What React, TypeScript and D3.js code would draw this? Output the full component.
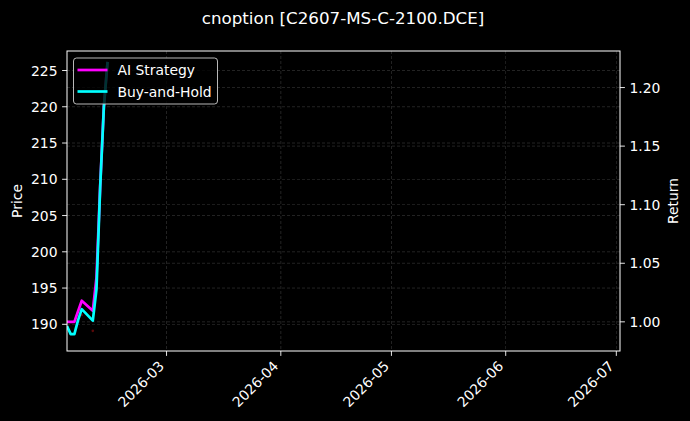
import * as d3 from 'd3';

// values
const dates = [
  '2026-02-02', '2026-02-03', '2026-02-04', '2026-02-05', '2026-02-06',
  '2026-02-09', '2026-02-10', '2026-02-11', '2026-02-12', '2026-02-13',
];
const aiStrategy = [1.0, 1.0, 1.0, 1.009, 1.018, 1.0095, 1.038, 1.116, 1.184, 1.222];
const buyAndHold = [0.9965, 0.9895, 0.9895, 1.0015, 1.0108, 1.001, 1.028, 1.115, 1.1835, 1.222];
const signalDates = ['2026-02-06', '2026-02-09'];
const signalPrices = [191.3, 189.1];

const priceTicks = [190, 195, 200, 205, 210, 215, 220, 225];
const returnTicks = [1.0, 1.05, 1.1, 1.15, 1.2];
const monthTicks = ['2026-03-01', '2026-04-01', '2026-05-01', '2026-06-01', '2026-07-01'];

const width = 690;
const height = 421;
const margin = { top: 51, right: 70, bottom: 70, left: 67 };
const font = 'DejaVu Sans, sans-serif';

const parse = d3.utcParse('%Y-%m-%d');

export default function App() {
  const innerW = width - margin.left - margin.right;
  const innerH = height - margin.top - margin.bottom;

  const x = d3.scaleUtc()
    .domain([new Date(Date.UTC(2026, 1, 2)), new Date(Date.UTC(2026, 6, 2))])
    .range([0, innerW]);
  const yPrice = d3.scaleLinear().domain([186.32, 227.69]).range([innerH, 0]);
  const yReturn = d3.scaleLinear().domain([0.9751, 1.2312]).range([innerH, 0]);

  const line = d3.line<[Date, number]>()
    .x(d => x(d[0]))
    .y(d => yReturn(d[1]));

  const aiPath = line(dates.map((d, i) => [parse(d)!, aiStrategy[i]]));
  const bhPath = line(dates.map((d, i) => [parse(d)!, buyAndHold[i]]));

  const grid = { stroke: '#777', strokeWidth: 0.55, strokeDasharray: '3,2', opacity: 0.55 };

  return (
    <svg width={width} height={height} style={{ display: 'block', position: 'absolute', left: 0, top: 0, background: '#000' }}>
      <rect width={width} height={height} fill="#000" />
      <text x={343} y={24} textAnchor="middle" fill="#fff" fontFamily={font} fontSize={16.7}>
        cnoption [C2607-MS-C-2100.DCE]
      </text>
      <defs>
        <clipPath id="plot">
          <rect width={innerW} height={innerH} />
        </clipPath>
      </defs>
      <g transform={`translate(${margin.left},${margin.top})`}>
        {/* grid */}
        {monthTicks.map(t => (
          <line key={t} x1={x(parse(t)!)} x2={x(parse(t)!)} y1={0} y2={innerH} {...grid} />
        ))}
        {priceTicks.map(t => (
          <line key={'p' + t} x1={0} x2={innerW} y1={yPrice(t)} y2={yPrice(t)} {...grid} />
        ))}
        {returnTicks.map(t => (
          <line key={'r' + t} x1={0} x2={innerW} y1={yReturn(t)} y2={yReturn(t)} {...grid} />
        ))}

        <g clipPath="url(#plot)">
          {signalDates.map((d, i) => (
            <circle key={d} cx={x(parse(d)!)} cy={yPrice(signalPrices[i])} r={1.3} fill="#5c0a0a" />
          ))}
          <path d={aiPath!} fill="none" stroke="#ff00ff" strokeWidth={2.7} strokeLinejoin="round" />
          <path d={bhPath!} fill="none" stroke="#00ffff" strokeWidth={2.7} strokeLinejoin="round" />
        </g>

        {/* spines */}
        <rect width={innerW} height={innerH} fill="none" stroke="#fff" strokeWidth={1} />

        {/* left axis */}
        {priceTicks.map(t => (
          <g key={'lp' + t} transform={`translate(0,${yPrice(t)})`}>
            <line x1={-4.9} x2={0} stroke="#fff" strokeWidth={0.9} />
            <text x={-9.5} dy="0.36em" textAnchor="end" fill="#fff" fontFamily={font} fontSize={13.9}>{t}</text>
          </g>
        ))}
        {/* right axis */}
        {returnTicks.map(t => (
          <g key={'lr' + t} transform={`translate(${innerW},${yReturn(t)})`}>
            <line x1={0} x2={4.9} stroke="#fff" strokeWidth={0.9} />
            <text x={9.5} dy="0.36em" textAnchor="start" fill="#fff" fontFamily={font} fontSize={13.9}>{t.toFixed(2)}</text>
          </g>
        ))}
        {/* bottom axis */}
        {monthTicks.map(t => {
          const px = x(parse(t)!);
          return (
            <g key={'b' + t}>
              <line x1={px} x2={px} y1={innerH} y2={innerH + 4.9} stroke="#fff" strokeWidth={0.9} />
              <text
                transform={`translate(${px - 1.5},${innerH + 16}) rotate(-45)`}
                textAnchor="end"
                fill="#fff"
                fontFamily={font}
                fontSize={13.9}
              >
                {d3.utcFormat('%Y-%m')(parse(t)!)}
              </text>
            </g>
          );
        })}

        <text transform={`translate(${17 - margin.left},${innerH / 2}) rotate(-90)`} textAnchor="middle" dy="0.36em" fill="#fff" fontFamily={font} fontSize={13.9}>
          Price
        </text>
        <text transform={`translate(${673 - margin.left},${innerH / 2}) rotate(-90)`} textAnchor="middle" dy="0.36em" fill="#fff" fontFamily={font} fontSize={13.9}>
          Return
        </text>

        {/* legend */}
        <g transform="translate(6.5,7)">
          <rect width={144} height={46} rx={3} fill="#000" fillOpacity={0.8} stroke="#ccc" strokeOpacity={0.9} strokeWidth={1} />
          <line x1={4} x2={34} y1={12} y2={12} stroke="#ff00ff" strokeWidth={2.7} />
          <text x={44} y={12} dy="0.36em" fill="#fff" fontFamily={font} fontSize={13.9}>AI Strategy</text>
          <line x1={4} x2={34} y1={33.5} y2={33.5} stroke="#00ffff" strokeWidth={2.7} />
          <text x={44} y={33.5} dy="0.36em" fill="#fff" fontFamily={font} fontSize={13.9}>Buy-and-Hold</text>
        </g>
      </g>
    </svg>
  );
}
